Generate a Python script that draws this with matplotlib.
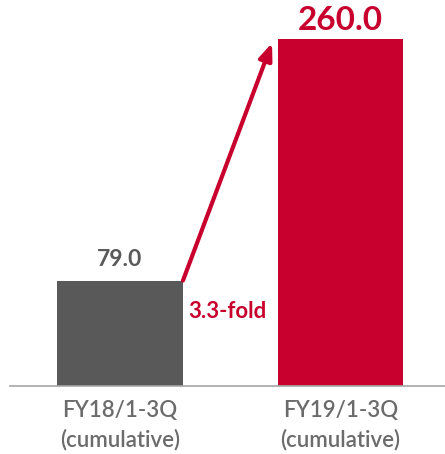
import matplotlib.pyplot as plt

# values
categories = ['FY18/1-3Q\n(cumulative)', 'FY19/1-3Q\n(cumulative)']
values = [79.0, 260.0]
value_labels = ['79.0', '260.0']
fold_label = '3.3-fold'

gray = '#595959'
red = '#C8002D'
label_gray = '#6b6b6b'

plt.rcParams['font.family'] = ['Lato', 'DejaVu Sans']

fig = plt.figure(figsize=(4.45, 4.54), dpi=100)
# axes placed so the baseline sits where the reference has it
ax = fig.add_axes([10 / 445, 68 / 454, 435 / 445, 386 / 454])

width = 0.571
x = [0, 1]
bars = ax.bar(x, values, width=width, color=[gray, red], zorder=2)

ax.set_xlim(-0.499, 1.474)
ax.set_ylim(0, 289.2)

# value labels
ax.text(x[0], values[0] + 8, value_labels[0], ha='center', va='bottom',
        fontsize=16.5, fontweight='bold', color=gray)
ax.text(x[1], values[1] + 3, value_labels[1], ha='center', va='bottom',
        fontsize=24, fontweight='bold', color=red)

# growth arrow from the top of the first bar towards the second
ax.annotate('', xy=(x[1] - width / 2 - 0.025, values[1] - 3),
            xytext=(x[0] + width / 2, values[0]),
            arrowprops=dict(arrowstyle='-|>,head_length=1.0,head_width=0.4',
                            color=red, lw=3, shrinkA=0, shrinkB=0))
ax.text(0.31, 56, fold_label, ha='left', va='center', fontsize=16,
        fontweight='bold', color=red)

# axis styling: only the baseline stays
for side in ['top', 'left', 'right']:
    ax.spines[side].set_visible(False)
ax.spines['bottom'].set_color('#a6a6a6')
ax.spines['bottom'].set_linewidth(1.2)
ax.set_yticks([])
ax.set_xticks(x)
ax.set_xticklabels(categories, fontsize=16, color=label_gray,
                   fontweight='semibold', linespacing=1.45)
ax.tick_params(axis='x', length=0, pad=10)

fig.savefig('out.png', dpi=100)
